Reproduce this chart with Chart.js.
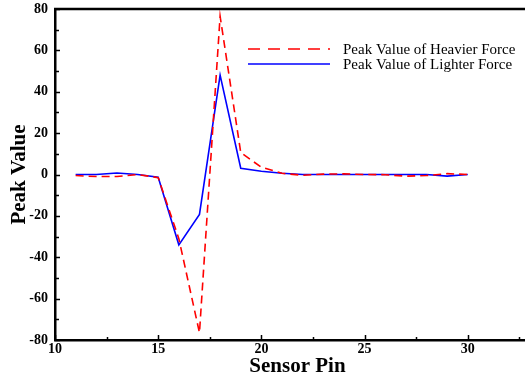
<!DOCTYPE html>
<html>
<head>
<meta charset="utf-8">
<script src="https://cdn.jsdelivr.net/npm/chart.js@4"></script>
<style>
  html, body { margin:0; padding:0; background:#fff; overflow:hidden; }
  #wrap { width:525px; height:378px; overflow:hidden; position:relative; }
  #box { width:540px; height:378px; position:absolute; left:0; top:0; }
</style>
</head>
<body>
<div id="wrap"><div id="box"><canvas id="chart"></canvas></div></div>
<script>
const pins = [11, 12, 13, 14, 15, 16, 17, 18, 19, 20, 21, 22, 23, 24, 25, 26, 27, 28, 29, 30];
const heavier = [-0.5, -1, -1, 0, -1.5, -31, -76.5, 76.5, 10.6, 3.5, 0.6, -0.4, 0.2, 0.3, 0, -0.1, -0.8, -0.5, 0.4, 0];
const lighter = [0, 0, 0.7, 0, -1.3, -34, -19.3, 48, 3, 1.6, 0.6, 0, 0, 0, 0, 0, 0, 0, -0.8, 0];
const seriesNames = ["Peak Value of Heavier Force", "Peak Value of Lighter Force"];
const xTicks = [10, 15, 20, 25, 30];
const yTicks = [-80, -60, -40, -20, 0, 20, 40, 60, 80];

const SERIF = "'Liberation Serif', 'Times New Roman', serif";

// top frame line, inward tick marks, legend inside plot
const framePlugin = {
  id: "frame",
  afterDraw(chart){
    const { ctx, chartArea: a, scales: { x, y } } = chart;
    ctx.save();
    ctx.strokeStyle = "#000";
    ctx.lineWidth = 2.5;
    ctx.beginPath();
    ctx.moveTo(a.left - 1, a.top); ctx.lineTo(chart.width, a.top);
    ctx.stroke();

    ctx.lineWidth = 1.5;
    ctx.beginPath();
    for (let v = 10; v <= 33.5; v += 2.5){
      const px = Math.round(x.getPixelForValue(v)) + 0.5;
      const len = v % 5 === 0 ? 5 : 3;
      ctx.moveTo(px, a.bottom); ctx.lineTo(px, a.bottom - len);
    }
    for (let v = -80; v <= 80; v += 10){
      const py = Math.round(y.getPixelForValue(v)) + 0.5;
      const len = v % 20 === 0 ? 5 : 4;
      ctx.moveTo(a.left, py); ctx.lineTo(a.left + len, py);
    }
    ctx.stroke();

    // legend
    const items = chart.data.datasets;
    const rows = [49, 64];
    ctx.font = "15px " + SERIF;
    ctx.textBaseline = "middle";
    ctx.fillStyle = "#000";
    items.forEach((ds, i) => {
      ctx.strokeStyle = ds.borderColor;
      ctx.lineWidth = ds.borderWidth;
      ctx.setLineDash(ds.borderDash.length ? [12, 8] : []);
      ctx.beginPath();
      ctx.moveTo(248, rows[i]); ctx.lineTo(330, rows[i]);
      ctx.stroke();
      ctx.setLineDash([]);
      ctx.fillText(ds.label, 343, rows[i] + 1);
    });
    ctx.restore();
  }
};

new Chart(document.getElementById("chart"), {
  type: "line",
  data: {
    datasets: [
      { label: seriesNames[0], data: pins.map((p, i) => ({ x: p, y: heavier[i] })),
        borderColor: "#FF0000", borderWidth: 1.6, borderDash: [8, 5], pointRadius: 0, tension: 0, fill: false },
      { label: seriesNames[1], data: pins.map((p, i) => ({ x: p, y: lighter[i] })),
        borderColor: "#0000FF", borderWidth: 1.6, borderDash: [], pointRadius: 0, tension: 0, fill: false }
    ]
  },
  options: {
    responsive: true,
    maintainAspectRatio: false,
    animation: false,
    layout: { padding: { top: 9, left: 0, right: 0, bottom: 0 } },
    plugins: { legend: { display: false }, tooltip: { enabled: false } },
    scales: {
      x: {
        type: "linear", min: 10, max: 33.5,
        afterFit: (s) => { s.height = 38; s.paddingRight = 0; },
        afterBuildTicks: (s) => { s.ticks = xTicks.map(v => ({ value: v })); },
        grid: { display: false, drawTicks: false },
        border: { display: true, color: "#000", width: 2.5 },
        ticks: { padding: 1, color: "#000", font: { family: SERIF, size: 14, weight: "bold" } },
        title: { display: true, text: "Sensor Pin", color: "#000", padding: { top: 0, bottom: -1 },
                 font: { family: SERIF, size: 21, weight: "bold", lineHeight: 1.2 } }
      },
      y: {
        type: "linear", min: -80, max: 80,
        afterFit: (s) => { s.width = 55; s.paddingTop = 0; s.paddingBottom = 0; },
        afterBuildTicks: (s) => { s.ticks = yTicks.map(v => ({ value: v })); },
        grid: { display: false, drawTicks: false },
        border: { display: true, color: "#000", width: 2.5 },
        ticks: { padding: 7, color: "#000", font: { family: SERIF, size: 14, weight: "bold" } },
        title: { display: true, text: "Peak Value", color: "#000", padding: { top: 7, bottom: 0 },
                 font: { family: SERIF, size: 21, weight: "bold", lineHeight: 1.2 } }
      }
    }
  },
  plugins: [framePlugin]
});
</script>
</body>
</html>
